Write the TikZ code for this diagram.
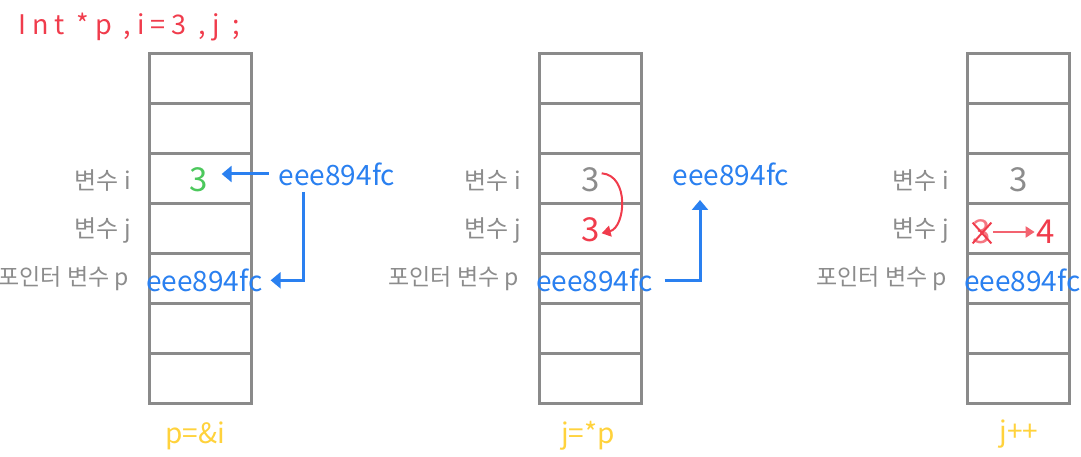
\documentclass[tikz,border=0pt]{standalone}
\usepackage{fontspec}
\setmainfont{Noto Sans CJK KR}
\usetikzlibrary{arrows.meta}
\definecolor{gridgray}{HTML}{8A8A8A}
\definecolor{txtgray}{HTML}{8C8C8C}
\definecolor{hblue}{HTML}{2A80F0}
\definecolor{hred}{HTML}{F03C4C}
\definecolor{hgreen}{HTML}{4CC85C}
\definecolor{hyellow}{HTML}{FFD23C}
\begin{document}
\begin{tikzpicture}[x=1pt,y=-1pt,
  cell/.style={draw=gridgray,line width=2.6pt,minimum width=102pt,minimum height=50pt,inner sep=0pt,anchor=north west},
  lab/.style={text=txtgray,anchor=east,inner sep=0pt,font=\fontsize{24}{28}\selectfont},
  labp/.style={lab,font=\fontsize{23}{27}\selectfont},
  val/.style={inner sep=2pt,font=\fontsize{33}{38}\selectfont},
  addr/.style={text=hblue,inner sep=2pt,font=\fontsize{28}{32}\selectfont},
  foot/.style={text=hyellow,font=\fontsize{28}{32}\selectfont},
  barrow/.style={draw=hblue,line width=3pt,-{Triangle[length=10pt,width=16pt]}},
  rarrow/.style={draw=hred,line width=2pt,-{Triangle[length=9pt,width=11pt]}}]
\useasboundingbox (0,0) rectangle (1081,457);
% title
\node[text=hred,font=\fontsize{27}{32}\selectfont\addfontfeatures{LetterSpace=22},anchor=west,inner sep=0pt] (title) at (18,27) {Int *p ,i=3 ,j ;};
% columns
\foreach \c/\L in {a/148,b/538,c/966}{
  \foreach \k in {1,...,7}{
    \node[cell] (\c\k) at (\L,{52+50*(\k-1)}) {};
  }
  \node[lab] (\c li) at ([xshift=-17pt,yshift=-2pt]\c3.west) {변수 i};
  \node[lab] (\c lj) at ([xshift=-17pt,yshift=-2pt]\c4.west) {변수 j};
  \node[labp] (\c lp) at ([xshift=-19pt]\c5.west) {포인터 변수 p};
}
% column 1
\node[val,text=hgreen] (v1) at ([xshift=-2pt,yshift=-1pt]a3.center) {3};
\node[addr] (p1) at ([xshift=4pt,yshift=-2pt]a5.center) {eee894fc};
\node[addr] (t1) at (337,174) {eee894fc};
\draw[barrow,shorten <=8pt,shorten >=12pt] (t1.west) -- (v1.east |- t1.west);
\coordinate (k1) at (303,192);
\draw[barrow] (k1) |- ([xshift=6pt]p1.east);
% column 2
\node[val,text=txtgray] (g2) at ([yshift=-1pt]b3.center) {3};
\node[val,text=hred] (r2) at ([yshift=-1pt]b4.center) {3};
\node[addr] (p2) at ([xshift=4pt,yshift=-2pt]b5.center) {eee894fc};
\node[addr] (t2) at (731,174) {eee894fc};
\coordinate (k2) at (700,200);
\draw[barrow,shorten <=10pt] (p2.east) -| (k2);
\draw[rarrow] ([yshift=6pt]g2.east) .. controls +(28,2) and +(24,-6) .. ([yshift=-4pt]r2.east);
% column 3
\node[val,text=txtgray] (g3) at ([yshift=-1pt]c3.center) {3};
\node[val,text=hred!70] (r3) at (982,232) {3};
\draw[hred,line width=2pt] ([shift={(2,5)}]r3.north west) -- ([shift={(-2,-3)}]r3.south east);
\draw[hred,line width=2pt] ([shift={(2,-3)}]r3.south west) -- ([shift={(-2,5)}]r3.north east);
\node[val,text=hred] (f3) at (1046,232) {4};
\draw[rarrow,draw=hred!80] (r3.east) -- (f3.west);
\node[addr] (p3) at ([xshift=4pt,yshift=-2pt]c5.center) {eee894fc};
% footers
\node[foot] (n1) at (195,436) {p=\&i};
\node[foot] (n2) at (588,436) {j=*p};
\node[foot] (n3) at (1019,434) {j++};
\end{tikzpicture}
\end{document}
